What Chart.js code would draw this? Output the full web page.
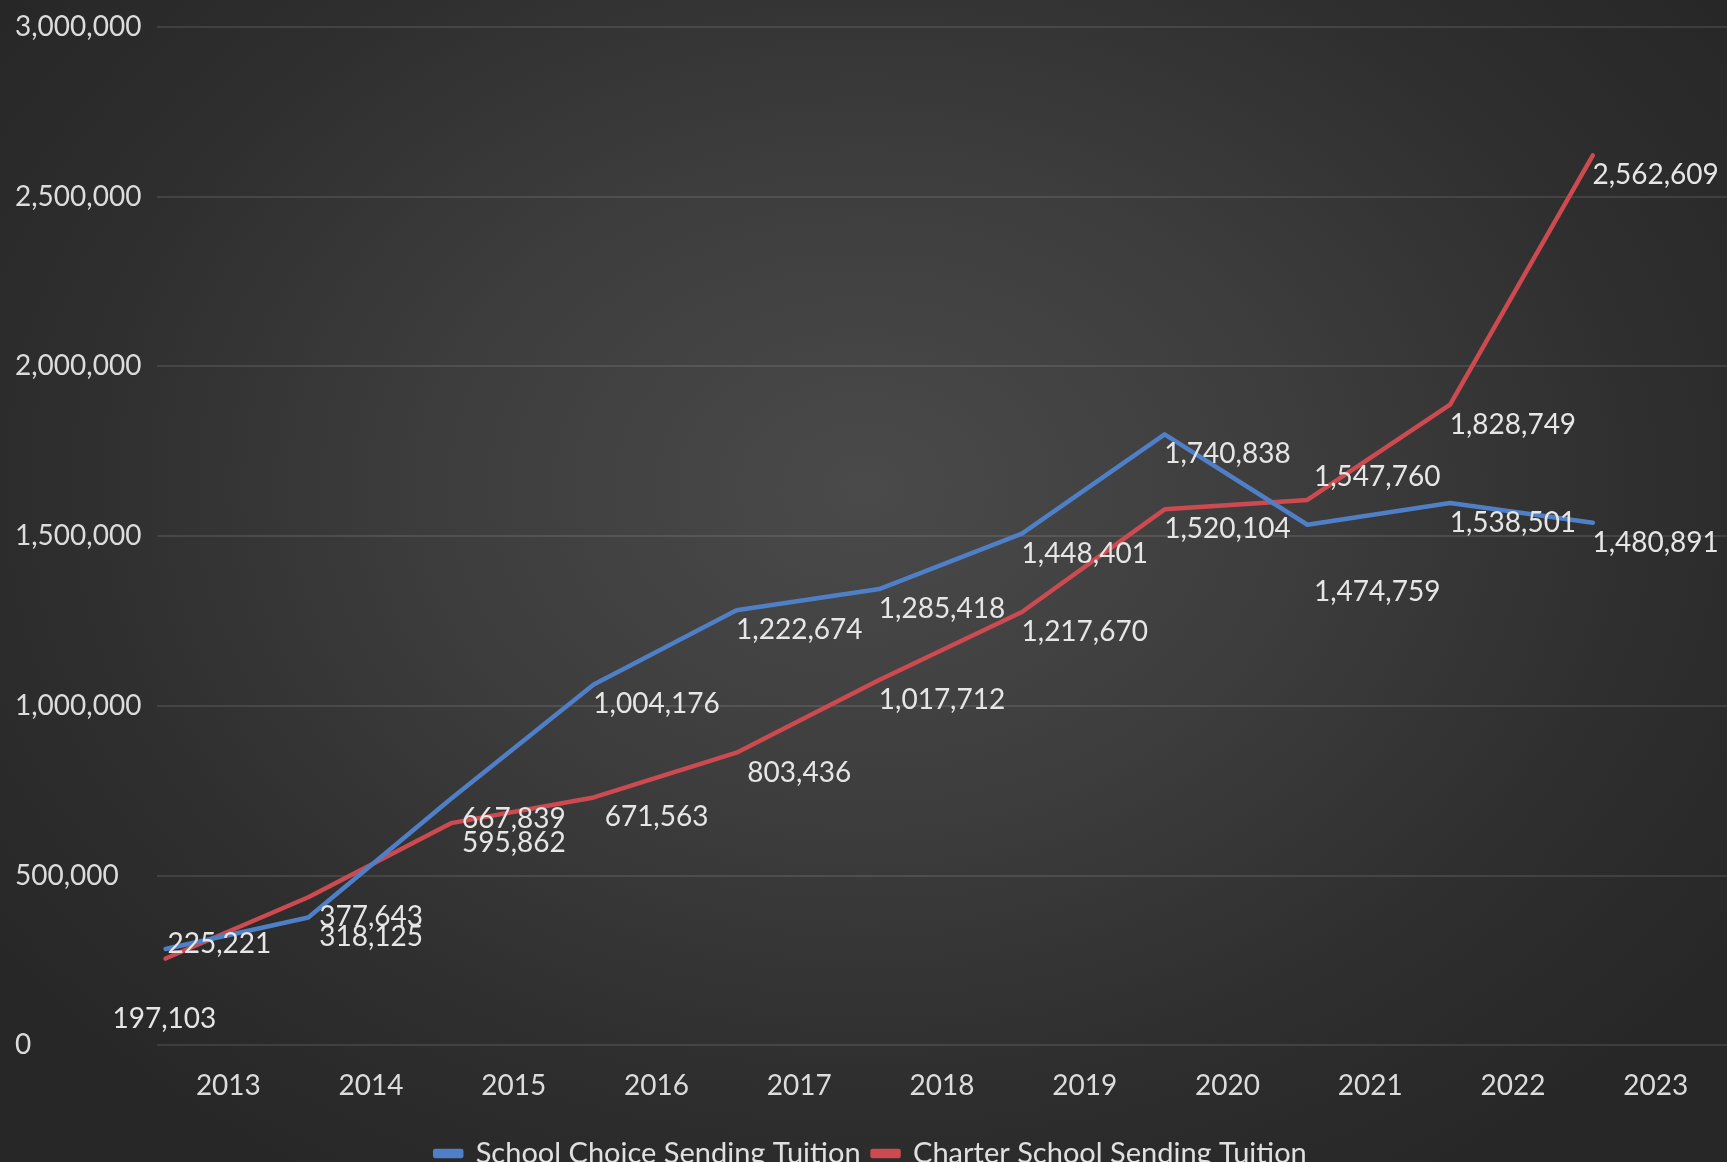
<!DOCTYPE html>
<html>
<head>
<meta charset="utf-8">
<script src="https://cdn.jsdelivr.net/npm/chart.js@4.4.1/dist/chart.umd.min.js"></script>
<style>
  html, body { margin: 0; padding: 0; overflow: hidden; width: 1727px; height: 1162px;
    background: radial-gradient(ellipse 62% 70% at 50% 42%, #4a4a4a 0%, #3d3d3d 40%, #2e2e2e 75%, #272727 100%); }
  #wrap { position: absolute; left: 0; top: 0; width: 1727px; height: 1178px; }
</style>
</head>
<body>
<div id="wrap"><canvas id="c"></canvas></div>
<script>
// ---- data ----
const years = ['2013','2014','2015','2016','2017','2018','2019','2020','2021','2022','2023'];
const schoolChoice = [225221, 318125, 667839, 1004176, 1222674, 1285418, 1448401, 1740838, 1474759, 1538501, 1480891];
const charterSchool = [197103, 377643, 595862, 671563, 803436, 1017712, 1217670, 1520104, 1547760, 1828749, 2562609];
const seriesNames = ['School Choice Sending Tuition', 'Charter School Sending Tuition'];
const yTicks = [0, 500000, 1000000, 1500000, 2000000, 2500000, 3000000];

const FONT = 'Lato, "Open Sans", sans-serif';
const fmt = v => v.toLocaleString('en-US');

// label nudges (pixels) for a few labels moved off their points in the original
const labelNudge = { '0-0': [-9, -25], '1-0': [-64, 40], '1-8': [7, -43], '0-8': [7, 47] };

const valueLabels = {
  id: 'valueLabels',
  afterDatasetsDraw(chart) {
    const ctx = chart.ctx, xs = chart.scales.x, ys = chart.scales.y;
    ctx.save();
    ctx.font = '28px ' + FONT;
    ctx.fillStyle = '#e6e6e6';
    ctx.textAlign = 'center';
    ctx.textBaseline = 'middle';
    [schoolChoice, charterSchool].forEach((arr, s) => {
      arr.forEach((v, i) => {
        const n = labelNudge[s + '-' + i] || [0, 0];
        ctx.fillText(fmt(v), xs.getPixelForValue(i) + n[0], ys.getPixelForValue(v) + n[1]);
      });
    });
    ctx.restore();
  }
};

const toPts = arr => arr.map((v, i) => ({ x: i, y: v }));

new Chart(document.getElementById('c'), {
  type: 'line',
  data: {
    labels: years,
    datasets: [
      { label: seriesNames[0], data: toPts(schoolChoice), borderColor: '#4f7fc6', backgroundColor: '#4f7fc6',
        borderWidth: 4.5, pointRadius: 0, tension: 0, borderJoinStyle: 'round', borderCapStyle: 'round',
        xAxisID: 'xL', yAxisID: 'yL' },
      { label: seriesNames[1], data: toPts(charterSchool), borderColor: '#cc4a50', backgroundColor: '#cc4a50',
        borderWidth: 4.5, pointRadius: 0, tension: 0, borderJoinStyle: 'round', borderCapStyle: 'round',
        xAxisID: 'xL', yAxisID: 'yL' }
    ]
  },
  options: {
    responsive: true,
    maintainAspectRatio: false,
    animation: false,
    layout: { padding: { top: 8, left: 15, right: 0, bottom: 0 } },
    plugins: {
      legend: {
        position: 'bottom',
        labels: { color: '#e0e0e0', font: { family: FONT, size: 29 }, boxWidth: 26, boxHeight: 5, padding: 12 }
      },
      tooltip: { enabled: false }
    },
    scales: {
      x: {
        type: 'category', offset: true,
        grid: { display: false, drawTicks: false }, border: { display: false },
        ticks: { color: '#dcdcdc', font: { family: FONT, size: 28 }, padding: 24, maxRotation: 0, autoSkip: false }
      },
      y: {
        type: 'linear', position: 'left', min: 0, max: 3000000,
        afterBuildTicks: s => { s.ticks = yTicks.map(v => ({ value: v })); },
        afterFit: s => { s.width = 142; },
        grid: { color: 'rgba(255,255,255,0.10)', lineWidth: 2, drawTicks: false }, border: { display: false },
        ticks: { color: '#dcdcdc', font: { family: FONT, size: 28 }, crossAlign: 'far', padding: 10, callback: v => fmt(v) }
      },
      // hidden frames on which the original's lines sit (shifted from the labelled frame)
      xL: { type: 'linear', display: false, min: -0.06, max: 10.94 },
      yL: { type: 'linear', display: false, min: -58700, max: 2941300 }
    }
  },
  plugins: [valueLabels]
});
</script>
</body>
</html>
